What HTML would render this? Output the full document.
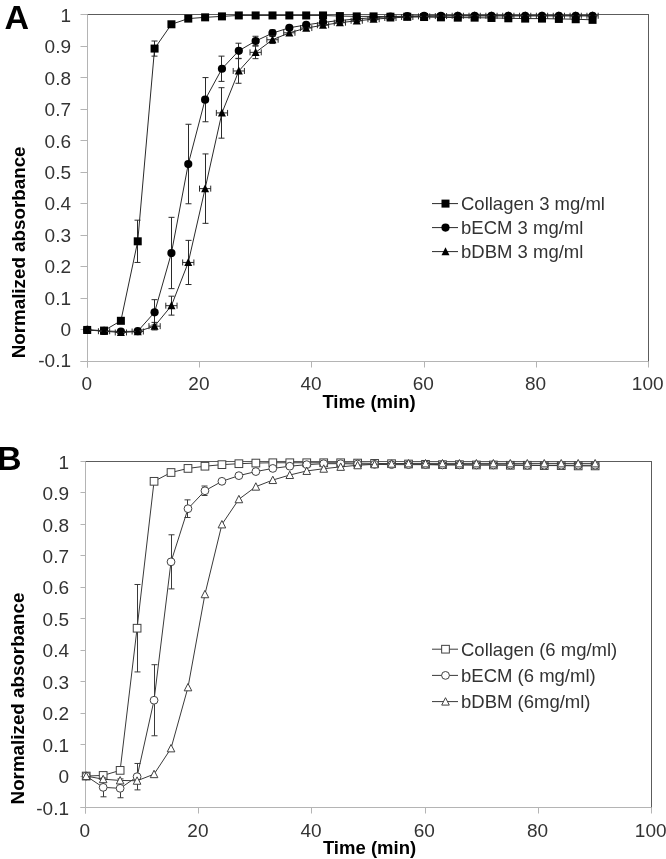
<!DOCTYPE html>
<html><head><meta charset="utf-8"><style>
html,body{margin:0;padding:0;background:#fff;}
body{width:666px;height:859px;overflow:hidden;}
svg{display:block;will-change:transform;}
.t{font-family:"Liberation Sans", sans-serif;font-size:18.5px;fill:#333;}
.k{font-size:19px;}
.b{font-family:"Liberation Sans", sans-serif;font-size:18.5px;font-weight:bold;fill:#000;}
.A{font-family:"Liberation Sans", sans-serif;font-size:34px;font-weight:bold;fill:#000;}
</style></head><body>
<svg width="666" height="859" viewBox="0 0 666 859">
<text x="4.5" y="29" class="A">A</text>
<text x="-2.9" y="470" class="A">B</text>
<rect x="87.5" y="14.5" width="561" height="347" fill="none" stroke="#5c5c5c" stroke-width="1"/>
<line x1="87.5" y1="14.5" x2="87.5" y2="367.5" stroke="#b4b4b4"/>
<line x1="80.5" y1="361.5" x2="648.5" y2="361.5" stroke="#b4b4b4"/>
<line x1="80.5" y1="14.5" x2="87.5" y2="14.5" stroke="#b4b4b4"/>
<text x="71" y="22.05" text-anchor="end" class="t k">1</text>
<line x1="80.5" y1="46.5" x2="87.5" y2="46.5" stroke="#b4b4b4"/>
<text x="71" y="53.45" text-anchor="end" class="t k">0.9</text>
<line x1="80.5" y1="77.5" x2="87.5" y2="77.5" stroke="#b4b4b4"/>
<text x="71" y="84.84" text-anchor="end" class="t k">0.8</text>
<line x1="80.5" y1="109.5" x2="87.5" y2="109.5" stroke="#b4b4b4"/>
<text x="71" y="116.24" text-anchor="end" class="t k">0.7</text>
<line x1="80.5" y1="140.5" x2="87.5" y2="140.5" stroke="#b4b4b4"/>
<text x="71" y="147.63" text-anchor="end" class="t k">0.6</text>
<line x1="80.5" y1="172.5" x2="87.5" y2="172.5" stroke="#b4b4b4"/>
<text x="71" y="179.03" text-anchor="end" class="t k">0.5</text>
<line x1="80.5" y1="203.5" x2="87.5" y2="203.5" stroke="#b4b4b4"/>
<text x="71" y="210.42" text-anchor="end" class="t k">0.4</text>
<line x1="80.5" y1="235.5" x2="87.5" y2="235.5" stroke="#b4b4b4"/>
<text x="71" y="241.82" text-anchor="end" class="t k">0.3</text>
<line x1="80.5" y1="266.5" x2="87.5" y2="266.5" stroke="#b4b4b4"/>
<text x="71" y="273.21" text-anchor="end" class="t k">0.2</text>
<line x1="80.5" y1="298.5" x2="87.5" y2="298.5" stroke="#b4b4b4"/>
<text x="71" y="304.61" text-anchor="end" class="t k">0.1</text>
<line x1="80.5" y1="329.5" x2="87.5" y2="329.5" stroke="#b4b4b4"/>
<text x="71" y="336" text-anchor="end" class="t k">0</text>
<line x1="80.5" y1="361.5" x2="87.5" y2="361.5" stroke="#b4b4b4"/>
<text x="71" y="367.4" text-anchor="end" class="t k">-0.1</text>
<line x1="87.5" y1="361.5" x2="87.5" y2="367.5" stroke="#b4b4b4"/>
<text x="86.7" y="390.3" text-anchor="middle" class="t k">0</text>
<line x1="199.5" y1="361.5" x2="199.5" y2="367.5" stroke="#b4b4b4"/>
<text x="198.9" y="390.3" text-anchor="middle" class="t k">20</text>
<line x1="311.5" y1="361.5" x2="311.5" y2="367.5" stroke="#b4b4b4"/>
<text x="311.1" y="390.3" text-anchor="middle" class="t k">40</text>
<line x1="424.5" y1="361.5" x2="424.5" y2="367.5" stroke="#b4b4b4"/>
<text x="423.3" y="390.3" text-anchor="middle" class="t k">60</text>
<line x1="536.5" y1="361.5" x2="536.5" y2="367.5" stroke="#b4b4b4"/>
<text x="535.5" y="390.3" text-anchor="middle" class="t k">80</text>
<line x1="648.5" y1="361.5" x2="648.5" y2="367.5" stroke="#b4b4b4"/>
<text x="647.7" y="390.3" text-anchor="middle" class="t k">100</text>
<text x="369" y="407.8" text-anchor="middle" class="b">Time (min)</text>
<text transform="translate(24.7,252.4) rotate(-90)" text-anchor="middle" class="b" style="font-size:18.8px">Normalized absorbance</text>
<rect x="85.5" y="461.5" width="566" height="346" fill="none" stroke="#5c5c5c" stroke-width="1"/>
<line x1="85.5" y1="461.5" x2="85.5" y2="813.5" stroke="#b4b4b4"/>
<line x1="80.5" y1="807.5" x2="651.5" y2="807.5" stroke="#b4b4b4"/>
<line x1="80.5" y1="461.5" x2="85.5" y2="461.5" stroke="#b4b4b4"/>
<text x="69" y="468.6" text-anchor="end" class="t k">1</text>
<line x1="80.5" y1="492.5" x2="85.5" y2="492.5" stroke="#b4b4b4"/>
<text x="69" y="500.05" text-anchor="end" class="t k">0.9</text>
<line x1="80.5" y1="524.5" x2="85.5" y2="524.5" stroke="#b4b4b4"/>
<text x="69" y="531.51" text-anchor="end" class="t k">0.8</text>
<line x1="80.5" y1="555.5" x2="85.5" y2="555.5" stroke="#b4b4b4"/>
<text x="69" y="562.96" text-anchor="end" class="t k">0.7</text>
<line x1="80.5" y1="587.5" x2="85.5" y2="587.5" stroke="#b4b4b4"/>
<text x="69" y="594.42" text-anchor="end" class="t k">0.6</text>
<line x1="80.5" y1="618.5" x2="85.5" y2="618.5" stroke="#b4b4b4"/>
<text x="69" y="625.87" text-anchor="end" class="t k">0.5</text>
<line x1="80.5" y1="650.5" x2="85.5" y2="650.5" stroke="#b4b4b4"/>
<text x="69" y="657.33" text-anchor="end" class="t k">0.4</text>
<line x1="80.5" y1="681.5" x2="85.5" y2="681.5" stroke="#b4b4b4"/>
<text x="69" y="688.78" text-anchor="end" class="t k">0.3</text>
<line x1="80.5" y1="713.5" x2="85.5" y2="713.5" stroke="#b4b4b4"/>
<text x="69" y="720.24" text-anchor="end" class="t k">0.2</text>
<line x1="80.5" y1="744.5" x2="85.5" y2="744.5" stroke="#b4b4b4"/>
<text x="69" y="751.69" text-anchor="end" class="t k">0.1</text>
<line x1="80.5" y1="776.5" x2="85.5" y2="776.5" stroke="#b4b4b4"/>
<text x="69" y="783.15" text-anchor="end" class="t k">0</text>
<line x1="80.5" y1="807.5" x2="85.5" y2="807.5" stroke="#b4b4b4"/>
<text x="69" y="814.6" text-anchor="end" class="t k">-0.1</text>
<line x1="85.5" y1="807.5" x2="85.5" y2="813.5" stroke="#b4b4b4"/>
<text x="84.7" y="836.6" text-anchor="middle" class="t k">0</text>
<line x1="198.5" y1="807.5" x2="198.5" y2="813.5" stroke="#b4b4b4"/>
<text x="197.9" y="836.6" text-anchor="middle" class="t k">20</text>
<line x1="311.5" y1="807.5" x2="311.5" y2="813.5" stroke="#b4b4b4"/>
<text x="311.1" y="836.6" text-anchor="middle" class="t k">40</text>
<line x1="425.5" y1="807.5" x2="425.5" y2="813.5" stroke="#b4b4b4"/>
<text x="424.3" y="836.6" text-anchor="middle" class="t k">60</text>
<line x1="538.5" y1="807.5" x2="538.5" y2="813.5" stroke="#b4b4b4"/>
<text x="537.5" y="836.6" text-anchor="middle" class="t k">80</text>
<line x1="651.5" y1="807.5" x2="651.5" y2="813.5" stroke="#b4b4b4"/>
<text x="650.7" y="836.6" text-anchor="middle" class="t k">100</text>
<text x="369.5" y="853.8" text-anchor="middle" class="b">Time (min)</text>
<text transform="translate(24.3,698.5) rotate(-90)" text-anchor="middle" class="b" style="font-size:18.8px">Normalized absorbance</text>
<polyline points="87.2,329.95 104.05,330.59 120.89,320.81 137.74,241.31 154.58,48.57 171.43,24.28 188.27,18.6 205.12,17.34 221.96,16.39 238.81,15.45 255.65,15.45 272.5,15.45 289.34,15.45 306.19,15.45 323.03,15.45 339.88,16.08 356.72,16.39 373.56,16.39 390.41,16.71 407.25,16.71 424.1,17.02 440.94,17.34 457.79,17.65 474.63,17.65 491.48,17.97 508.32,18.29 525.17,18.6 542.01,18.6 558.86,18.92 575.71,19.23 592.55,19.86" fill="none" stroke="#2a2a2a" stroke-width="1"/>
<path d="M137.5 220.18V262.45M134.5 220.18H140.5M134.5 262.45H140.5" stroke="#2a2a2a" fill="none"/>
<path d="M154.5 41V56.14M151.5 41H157.5M151.5 56.14H157.5" stroke="#2a2a2a" fill="none"/>
<rect x="83.2" y="325.95" width="8" height="8" fill="#000"/>
<rect x="100.05" y="326.59" width="8" height="8" fill="#000"/>
<rect x="116.89" y="316.81" width="8" height="8" fill="#000"/>
<rect x="133.74" y="237.31" width="8" height="8" fill="#000"/>
<rect x="150.58" y="44.57" width="8" height="8" fill="#000"/>
<rect x="167.43" y="20.28" width="8" height="8" fill="#000"/>
<rect x="184.27" y="14.6" width="8" height="8" fill="#000"/>
<rect x="201.12" y="13.34" width="8" height="8" fill="#000"/>
<rect x="217.96" y="12.39" width="8" height="8" fill="#000"/>
<rect x="234.81" y="11.45" width="8" height="8" fill="#000"/>
<rect x="251.65" y="11.45" width="8" height="8" fill="#000"/>
<rect x="268.5" y="11.45" width="8" height="8" fill="#000"/>
<rect x="285.34" y="11.45" width="8" height="8" fill="#000"/>
<rect x="302.19" y="11.45" width="8" height="8" fill="#000"/>
<rect x="319.03" y="11.45" width="8" height="8" fill="#000"/>
<rect x="335.88" y="12.08" width="8" height="8" fill="#000"/>
<rect x="352.72" y="12.39" width="8" height="8" fill="#000"/>
<rect x="369.56" y="12.39" width="8" height="8" fill="#000"/>
<rect x="386.41" y="12.71" width="8" height="8" fill="#000"/>
<rect x="403.25" y="12.71" width="8" height="8" fill="#000"/>
<rect x="420.1" y="13.02" width="8" height="8" fill="#000"/>
<rect x="436.94" y="13.34" width="8" height="8" fill="#000"/>
<rect x="453.79" y="13.65" width="8" height="8" fill="#000"/>
<rect x="470.63" y="13.65" width="8" height="8" fill="#000"/>
<rect x="487.48" y="13.97" width="8" height="8" fill="#000"/>
<rect x="504.32" y="14.29" width="8" height="8" fill="#000"/>
<rect x="521.17" y="14.6" width="8" height="8" fill="#000"/>
<rect x="538.01" y="14.6" width="8" height="8" fill="#000"/>
<rect x="554.86" y="14.92" width="8" height="8" fill="#000"/>
<rect x="571.71" y="15.23" width="8" height="8" fill="#000"/>
<rect x="588.55" y="15.86" width="8" height="8" fill="#000"/>
<polyline points="87.2,329.95 104.05,330.9 120.89,331.53 137.74,331.22 154.58,312.29 171.43,252.98 188.27,164.03 205.12,99.67 221.96,68.76 238.81,50.78 255.65,41 272.5,33.11 289.34,27.75 306.19,24.91 323.03,22.39 339.88,20.49 356.72,18.92 373.56,17.65 390.41,16.71 407.25,16.08 424.1,15.76 440.94,15.76 457.79,15.76 474.63,15.76 491.48,15.76 508.32,15.76 525.17,15.76 542.01,15.76 558.86,15.76 575.71,15.76 592.55,15.76" fill="none" stroke="#2a2a2a" stroke-width="1"/>
<path d="M154.5 299.67V324.91M151.5 299.67H157.5M151.5 324.91H157.5" stroke="#2a2a2a" fill="none"/>
<path d="M171.5 217.34V288.63M168.5 217.34H174.5M168.5 288.63H174.5" stroke="#2a2a2a" fill="none"/>
<path d="M188.5 124.28V203.77M185.5 124.28H191.5M185.5 203.77H191.5" stroke="#2a2a2a" fill="none"/>
<path d="M205.5 77.59V121.75M202.5 77.59H208.5M202.5 121.75H208.5" stroke="#2a2a2a" fill="none"/>
<path d="M221.5 56.14V81.38M218.5 56.14H224.5M218.5 81.38H224.5" stroke="#2a2a2a" fill="none"/>
<path d="M238.5 43.21V58.35M235.5 43.21H241.5M235.5 58.35H241.5" stroke="#2a2a2a" fill="none"/>
<path d="M255.5 36.27V45.73M252.5 36.27H258.5M252.5 45.73H258.5" stroke="#2a2a2a" fill="none"/>
<path d="M272.5 29.96V36.27M269.5 29.96H275.5M269.5 36.27H275.5" stroke="#2a2a2a" fill="none"/>
<circle cx="87.2" cy="329.95" r="4.1" fill="#000"/>
<circle cx="104.05" cy="330.9" r="4.1" fill="#000"/>
<circle cx="120.89" cy="331.53" r="4.1" fill="#000"/>
<circle cx="137.74" cy="331.22" r="4.1" fill="#000"/>
<circle cx="154.58" cy="312.29" r="4.1" fill="#000"/>
<circle cx="171.43" cy="252.98" r="4.1" fill="#000"/>
<circle cx="188.27" cy="164.03" r="4.1" fill="#000"/>
<circle cx="205.12" cy="99.67" r="4.1" fill="#000"/>
<circle cx="221.96" cy="68.76" r="4.1" fill="#000"/>
<circle cx="238.81" cy="50.78" r="4.1" fill="#000"/>
<circle cx="255.65" cy="41" r="4.1" fill="#000"/>
<circle cx="272.5" cy="33.11" r="4.1" fill="#000"/>
<circle cx="289.34" cy="27.75" r="4.1" fill="#000"/>
<circle cx="306.19" cy="24.91" r="4.1" fill="#000"/>
<circle cx="323.03" cy="22.39" r="4.1" fill="#000"/>
<circle cx="339.88" cy="20.49" r="4.1" fill="#000"/>
<circle cx="356.72" cy="18.92" r="4.1" fill="#000"/>
<circle cx="373.56" cy="17.65" r="4.1" fill="#000"/>
<circle cx="390.41" cy="16.71" r="4.1" fill="#000"/>
<circle cx="407.25" cy="16.08" r="4.1" fill="#000"/>
<circle cx="424.1" cy="15.76" r="4.1" fill="#000"/>
<circle cx="440.94" cy="15.76" r="4.1" fill="#000"/>
<circle cx="457.79" cy="15.76" r="4.1" fill="#000"/>
<circle cx="474.63" cy="15.76" r="4.1" fill="#000"/>
<circle cx="491.48" cy="15.76" r="4.1" fill="#000"/>
<circle cx="508.32" cy="15.76" r="4.1" fill="#000"/>
<circle cx="525.17" cy="15.76" r="4.1" fill="#000"/>
<circle cx="542.01" cy="15.76" r="4.1" fill="#000"/>
<circle cx="558.86" cy="15.76" r="4.1" fill="#000"/>
<circle cx="575.71" cy="15.76" r="4.1" fill="#000"/>
<circle cx="592.55" cy="15.76" r="4.1" fill="#000"/>
<polyline points="87.2,329.95 104.05,331.22 120.89,332.48 137.74,331.53 154.58,326.17 171.43,305.66 188.27,262.45 205.12,188.63 221.96,112.92 238.81,70.97 255.65,52.35 272.5,39.74 289.34,32.8 306.19,28.06 323.03,25.23 339.88,22.7 356.72,20.81 373.56,19.23 390.41,17.97 407.25,17.02 424.1,16.39 440.94,16.08 457.79,15.76 474.63,15.76 491.48,15.76 508.32,15.76 525.17,15.76 542.01,15.76 558.86,15.76 575.71,15.76 592.55,15.76" fill="none" stroke="#2a2a2a" stroke-width="1"/>
<path d="M154.5 322.38V329.95M151.5 322.38H157.5M151.5 329.95H157.5" stroke="#2a2a2a" fill="none"/>
<path d="M171.5 296.2V315.13M168.5 296.2H174.5M168.5 315.13H174.5" stroke="#2a2a2a" fill="none"/>
<path d="M188.5 240.37V284.53M185.5 240.37H191.5M185.5 284.53H191.5" stroke="#2a2a2a" fill="none"/>
<path d="M205.5 153.93V223.33M202.5 153.93H208.5M202.5 223.33H208.5" stroke="#2a2a2a" fill="none"/>
<path d="M221.5 87.69V138.16M218.5 87.69H224.5M218.5 138.16H224.5" stroke="#2a2a2a" fill="none"/>
<path d="M238.5 58.66V83.27M235.5 58.66H241.5M235.5 83.27H241.5" stroke="#2a2a2a" fill="none"/>
<path d="M255.5 46.05V58.66M252.5 46.05H258.5M252.5 58.66H258.5" stroke="#2a2a2a" fill="none"/>
<path d="M272.5 35.95V43.52M269.5 35.95H275.5M269.5 43.52H275.5" stroke="#2a2a2a" fill="none"/>
<path d="M98.43 331.22H109.66M98.43 328.22V334.22M109.66 328.22V334.22" stroke="#2a2a2a" fill="none"/>
<path d="M115.28 332.48H126.5M115.28 329.48V335.48M126.5 329.48V335.48" stroke="#2a2a2a" fill="none"/>
<path d="M132.12 331.53H143.35M132.12 328.53V334.53M143.35 328.53V334.53" stroke="#2a2a2a" fill="none"/>
<path d="M148.97 326.17H160.19M148.97 323.17V329.17M160.19 323.17V329.17" stroke="#2a2a2a" fill="none"/>
<path d="M165.81 305.66H177.04M165.81 302.66V308.66M177.04 302.66V308.66" stroke="#2a2a2a" fill="none"/>
<path d="M182.66 262.45H193.88M182.66 259.45V265.45M193.88 259.45V265.45" stroke="#2a2a2a" fill="none"/>
<path d="M199.5 188.63H210.73M199.5 185.63V191.63M210.73 185.63V191.63" stroke="#2a2a2a" fill="none"/>
<path d="M216.35 112.92H227.57M216.35 109.92V115.92M227.57 109.92V115.92" stroke="#2a2a2a" fill="none"/>
<path d="M233.19 70.97H244.42M233.19 67.97V73.97M244.42 67.97V73.97" stroke="#2a2a2a" fill="none"/>
<path d="M250.04 52.35H261.26M250.04 49.35V55.35M261.26 49.35V55.35" stroke="#2a2a2a" fill="none"/>
<path d="M266.88 39.74H278.11M266.88 36.74V42.74M278.11 36.74V42.74" stroke="#2a2a2a" fill="none"/>
<path d="M283.73 32.8H294.95M283.73 29.8V35.8M294.95 29.8V35.8" stroke="#2a2a2a" fill="none"/>
<path d="M300.57 28.06H311.8M300.57 25.06V31.06M311.8 25.06V31.06" stroke="#2a2a2a" fill="none"/>
<path d="M317.42 25.23H328.64M317.42 22.23V28.23M328.64 22.23V28.23" stroke="#2a2a2a" fill="none"/>
<path d="M334.26 22.7H345.49M334.26 19.7V25.7M345.49 19.7V25.7" stroke="#2a2a2a" fill="none"/>
<path d="M351.1 20.81H362.33M351.1 17.81V23.81M362.33 17.81V23.81" stroke="#2a2a2a" fill="none"/>
<path d="M367.95 19.23H379.18M367.95 16.23V22.23M379.18 16.23V22.23" stroke="#2a2a2a" fill="none"/>
<path d="M384.8 17.97H396.02M384.8 14.97V20.97M396.02 14.97V20.97" stroke="#2a2a2a" fill="none"/>
<path d="M401.64 17.02H412.87M401.64 14.02V20.02M412.87 14.02V20.02" stroke="#2a2a2a" fill="none"/>
<path d="M418.49 16.39H429.71M418.49 13.39V19.39M429.71 13.39V19.39" stroke="#2a2a2a" fill="none"/>
<path d="M435.33 16.08H446.56M435.33 13.08V19.08M446.56 13.08V19.08" stroke="#2a2a2a" fill="none"/>
<path d="M452.18 15.76H463.4M452.18 12.76V18.76M463.4 12.76V18.76" stroke="#2a2a2a" fill="none"/>
<path d="M469.02 15.76H480.25M469.02 12.76V18.76M480.25 12.76V18.76" stroke="#2a2a2a" fill="none"/>
<path d="M485.87 15.76H497.09M485.87 12.76V18.76M497.09 12.76V18.76" stroke="#2a2a2a" fill="none"/>
<path d="M502.71 15.76H513.94M502.71 12.76V18.76M513.94 12.76V18.76" stroke="#2a2a2a" fill="none"/>
<path d="M519.56 15.76H530.78M519.56 12.76V18.76M530.78 12.76V18.76" stroke="#2a2a2a" fill="none"/>
<path d="M536.4 15.76H547.63M536.4 12.76V18.76M547.63 12.76V18.76" stroke="#2a2a2a" fill="none"/>
<path d="M553.25 15.76H564.48M553.25 12.76V18.76M564.48 12.76V18.76" stroke="#2a2a2a" fill="none"/>
<path d="M570.09 15.76H581.32M570.09 12.76V18.76M581.32 12.76V18.76" stroke="#2a2a2a" fill="none"/>
<path d="M586.94 15.76H598.16M586.94 12.76V18.76M598.16 12.76V18.76" stroke="#2a2a2a" fill="none"/>
<path d="M87.2 325.55L91.2 333.55L83.2 333.55Z" fill="#000"/>
<path d="M104.05 326.82L108.05 334.82L100.05 334.82Z" fill="#000"/>
<path d="M120.89 328.08L124.89 336.08L116.89 336.08Z" fill="#000"/>
<path d="M137.74 327.13L141.74 335.13L133.74 335.13Z" fill="#000"/>
<path d="M154.58 321.77L158.58 329.77L150.58 329.77Z" fill="#000"/>
<path d="M171.43 301.26L175.43 309.26L167.43 309.26Z" fill="#000"/>
<path d="M188.27 258.05L192.27 266.05L184.27 266.05Z" fill="#000"/>
<path d="M205.12 184.23L209.12 192.23L201.12 192.23Z" fill="#000"/>
<path d="M221.96 108.52L225.96 116.52L217.96 116.52Z" fill="#000"/>
<path d="M238.81 66.57L242.81 74.57L234.81 74.57Z" fill="#000"/>
<path d="M255.65 47.95L259.65 55.95L251.65 55.95Z" fill="#000"/>
<path d="M272.5 35.34L276.5 43.34L268.5 43.34Z" fill="#000"/>
<path d="M289.34 28.4L293.34 36.4L285.34 36.4Z" fill="#000"/>
<path d="M306.19 23.66L310.19 31.66L302.19 31.66Z" fill="#000"/>
<path d="M323.03 20.83L327.03 28.83L319.03 28.83Z" fill="#000"/>
<path d="M339.88 18.3L343.88 26.3L335.88 26.3Z" fill="#000"/>
<path d="M356.72 16.41L360.72 24.41L352.72 24.41Z" fill="#000"/>
<path d="M373.56 14.83L377.56 22.83L369.56 22.83Z" fill="#000"/>
<path d="M390.41 13.57L394.41 21.57L386.41 21.57Z" fill="#000"/>
<path d="M407.25 12.62L411.25 20.62L403.25 20.62Z" fill="#000"/>
<path d="M424.1 11.99L428.1 19.99L420.1 19.99Z" fill="#000"/>
<path d="M440.94 11.68L444.94 19.68L436.94 19.68Z" fill="#000"/>
<path d="M457.79 11.36L461.79 19.36L453.79 19.36Z" fill="#000"/>
<path d="M474.63 11.36L478.63 19.36L470.63 19.36Z" fill="#000"/>
<path d="M491.48 11.36L495.48 19.36L487.48 19.36Z" fill="#000"/>
<path d="M508.32 11.36L512.33 19.36L504.32 19.36Z" fill="#000"/>
<path d="M525.17 11.36L529.17 19.36L521.17 19.36Z" fill="#000"/>
<path d="M542.01 11.36L546.01 19.36L538.01 19.36Z" fill="#000"/>
<path d="M558.86 11.36L562.86 19.36L554.86 19.36Z" fill="#000"/>
<path d="M575.71 11.36L579.71 19.36L571.71 19.36Z" fill="#000"/>
<path d="M592.55 11.36L596.55 19.36L588.55 19.36Z" fill="#000"/>
<line x1="432" y1="203.6" x2="458" y2="203.6" stroke="#2a2a2a"/>
<rect x="441.5" y="199.6" width="8" height="8" fill="#000"/>
<text x="461" y="210.2" class="t">Collagen 3 mg/ml</text>
<line x1="432" y1="227.6" x2="458" y2="227.6" stroke="#2a2a2a"/>
<circle cx="445.5" cy="227.6" r="4.1" fill="#000"/>
<text x="461" y="234.2" class="t">bECM 3 mg/ml</text>
<line x1="432" y1="251.6" x2="458" y2="251.6" stroke="#2a2a2a"/>
<path d="M445.5 247.2L449.5 255.2L441.5 255.2Z" fill="#000"/>
<text x="461" y="258.2" class="t">bDBM 3 mg/ml</text>
<polyline points="86.2,776.05 103.17,775.42 120.13,770.38 137.09,628.21 154.06,481.32 171.03,472.51 187.99,468.42 204.95,466.22 221.92,464.65 238.88,463.7 255.85,463.07 272.81,462.76 289.78,462.76 306.75,462.76 323.71,462.76 340.68,462.76 357.64,463.07 374.6,463.39 391.57,463.7 408.53,464.02 425.5,464.33 442.46,464.65 459.43,464.65 476.39,464.96 493.36,464.96 510.32,465.27 527.29,465.27 544.25,465.59 561.22,465.59 578.19,465.9 595.15,465.9" fill="none" stroke="#3a3a3a" stroke-width="1"/>
<path d="M137.5 584.49V671.93M134.5 584.49H140.5M134.5 671.93H140.5" stroke="#3a3a3a" fill="none"/>
<rect x="82.35" y="772.2" width="7.7" height="7.7" fill="#fff" stroke="#404040" stroke-width="1"/>
<rect x="99.32" y="771.57" width="7.7" height="7.7" fill="#fff" stroke="#404040" stroke-width="1"/>
<rect x="116.28" y="766.53" width="7.7" height="7.7" fill="#fff" stroke="#404040" stroke-width="1"/>
<rect x="133.25" y="624.36" width="7.7" height="7.7" fill="#fff" stroke="#404040" stroke-width="1"/>
<rect x="150.21" y="477.47" width="7.7" height="7.7" fill="#fff" stroke="#404040" stroke-width="1"/>
<rect x="167.18" y="468.66" width="7.7" height="7.7" fill="#fff" stroke="#404040" stroke-width="1"/>
<rect x="184.14" y="464.57" width="7.7" height="7.7" fill="#fff" stroke="#404040" stroke-width="1"/>
<rect x="201.1" y="462.37" width="7.7" height="7.7" fill="#fff" stroke="#404040" stroke-width="1"/>
<rect x="218.07" y="460.8" width="7.7" height="7.7" fill="#fff" stroke="#404040" stroke-width="1"/>
<rect x="235.03" y="459.85" width="7.7" height="7.7" fill="#fff" stroke="#404040" stroke-width="1"/>
<rect x="252" y="459.22" width="7.7" height="7.7" fill="#fff" stroke="#404040" stroke-width="1"/>
<rect x="268.96" y="458.91" width="7.7" height="7.7" fill="#fff" stroke="#404040" stroke-width="1"/>
<rect x="285.93" y="458.91" width="7.7" height="7.7" fill="#fff" stroke="#404040" stroke-width="1"/>
<rect x="302.89" y="458.91" width="7.7" height="7.7" fill="#fff" stroke="#404040" stroke-width="1"/>
<rect x="319.86" y="458.91" width="7.7" height="7.7" fill="#fff" stroke="#404040" stroke-width="1"/>
<rect x="336.82" y="458.91" width="7.7" height="7.7" fill="#fff" stroke="#404040" stroke-width="1"/>
<rect x="353.79" y="459.22" width="7.7" height="7.7" fill="#fff" stroke="#404040" stroke-width="1"/>
<rect x="370.75" y="459.54" width="7.7" height="7.7" fill="#fff" stroke="#404040" stroke-width="1"/>
<rect x="387.72" y="459.85" width="7.7" height="7.7" fill="#fff" stroke="#404040" stroke-width="1"/>
<rect x="404.68" y="460.17" width="7.7" height="7.7" fill="#fff" stroke="#404040" stroke-width="1"/>
<rect x="421.65" y="460.48" width="7.7" height="7.7" fill="#fff" stroke="#404040" stroke-width="1"/>
<rect x="438.61" y="460.8" width="7.7" height="7.7" fill="#fff" stroke="#404040" stroke-width="1"/>
<rect x="455.58" y="460.8" width="7.7" height="7.7" fill="#fff" stroke="#404040" stroke-width="1"/>
<rect x="472.54" y="461.11" width="7.7" height="7.7" fill="#fff" stroke="#404040" stroke-width="1"/>
<rect x="489.51" y="461.11" width="7.7" height="7.7" fill="#fff" stroke="#404040" stroke-width="1"/>
<rect x="506.47" y="461.42" width="7.7" height="7.7" fill="#fff" stroke="#404040" stroke-width="1"/>
<rect x="523.44" y="461.42" width="7.7" height="7.7" fill="#fff" stroke="#404040" stroke-width="1"/>
<rect x="540.4" y="461.74" width="7.7" height="7.7" fill="#fff" stroke="#404040" stroke-width="1"/>
<rect x="557.37" y="461.74" width="7.7" height="7.7" fill="#fff" stroke="#404040" stroke-width="1"/>
<rect x="574.34" y="462.05" width="7.7" height="7.7" fill="#fff" stroke="#404040" stroke-width="1"/>
<rect x="591.3" y="462.05" width="7.7" height="7.7" fill="#fff" stroke="#404040" stroke-width="1"/>
<polyline points="86.2,776.05 103.17,787.37 120.13,788.31 137.09,776.67 154.06,700.24 171.03,561.84 187.99,508.68 204.95,490.75 221.92,481.32 238.88,475.65 255.85,471.57 272.81,468.42 289.78,466.22 306.75,464.65 323.71,463.7 340.68,463.7 357.64,464.02 374.6,464.33 391.57,464.65 408.53,464.65 425.5,464.65 442.46,464.96 459.43,464.96 476.39,464.96 493.36,464.96 510.32,464.96 527.29,465.27 544.25,465.27 561.22,465.27 578.19,465.27 595.15,465.27" fill="none" stroke="#3a3a3a" stroke-width="1"/>
<path d="M103.5 777.93V796.81M100.5 777.93H106.5M100.5 796.81H106.5" stroke="#3a3a3a" fill="none"/>
<path d="M120.5 778.88V797.75M117.5 778.88H123.5M117.5 797.75H123.5" stroke="#3a3a3a" fill="none"/>
<path d="M137.5 763.46V789.89M134.5 763.46H140.5M134.5 789.89H140.5" stroke="#3a3a3a" fill="none"/>
<path d="M154.5 664.7V735.78M151.5 664.7H157.5M151.5 735.78H157.5" stroke="#3a3a3a" fill="none"/>
<path d="M171.5 534.79V588.89M168.5 534.79H174.5M168.5 588.89H174.5" stroke="#3a3a3a" fill="none"/>
<path d="M187.5 499.87V517.49M184.5 499.87H190.5M184.5 517.49H190.5" stroke="#3a3a3a" fill="none"/>
<path d="M204.5 486.03V495.47M201.5 486.03H207.5M201.5 495.47H207.5" stroke="#3a3a3a" fill="none"/>
<circle cx="86.2" cy="776.05" r="3.9" fill="#fff" stroke="#404040" stroke-width="1"/>
<circle cx="103.17" cy="787.37" r="3.9" fill="#fff" stroke="#404040" stroke-width="1"/>
<circle cx="120.13" cy="788.31" r="3.9" fill="#fff" stroke="#404040" stroke-width="1"/>
<circle cx="137.09" cy="776.67" r="3.9" fill="#fff" stroke="#404040" stroke-width="1"/>
<circle cx="154.06" cy="700.24" r="3.9" fill="#fff" stroke="#404040" stroke-width="1"/>
<circle cx="171.03" cy="561.84" r="3.9" fill="#fff" stroke="#404040" stroke-width="1"/>
<circle cx="187.99" cy="508.68" r="3.9" fill="#fff" stroke="#404040" stroke-width="1"/>
<circle cx="204.95" cy="490.75" r="3.9" fill="#fff" stroke="#404040" stroke-width="1"/>
<circle cx="221.92" cy="481.32" r="3.9" fill="#fff" stroke="#404040" stroke-width="1"/>
<circle cx="238.88" cy="475.65" r="3.9" fill="#fff" stroke="#404040" stroke-width="1"/>
<circle cx="255.85" cy="471.57" r="3.9" fill="#fff" stroke="#404040" stroke-width="1"/>
<circle cx="272.81" cy="468.42" r="3.9" fill="#fff" stroke="#404040" stroke-width="1"/>
<circle cx="289.78" cy="466.22" r="3.9" fill="#fff" stroke="#404040" stroke-width="1"/>
<circle cx="306.75" cy="464.65" r="3.9" fill="#fff" stroke="#404040" stroke-width="1"/>
<circle cx="323.71" cy="463.7" r="3.9" fill="#fff" stroke="#404040" stroke-width="1"/>
<circle cx="340.68" cy="463.7" r="3.9" fill="#fff" stroke="#404040" stroke-width="1"/>
<circle cx="357.64" cy="464.02" r="3.9" fill="#fff" stroke="#404040" stroke-width="1"/>
<circle cx="374.6" cy="464.33" r="3.9" fill="#fff" stroke="#404040" stroke-width="1"/>
<circle cx="391.57" cy="464.65" r="3.9" fill="#fff" stroke="#404040" stroke-width="1"/>
<circle cx="408.53" cy="464.65" r="3.9" fill="#fff" stroke="#404040" stroke-width="1"/>
<circle cx="425.5" cy="464.65" r="3.9" fill="#fff" stroke="#404040" stroke-width="1"/>
<circle cx="442.46" cy="464.96" r="3.9" fill="#fff" stroke="#404040" stroke-width="1"/>
<circle cx="459.43" cy="464.96" r="3.9" fill="#fff" stroke="#404040" stroke-width="1"/>
<circle cx="476.39" cy="464.96" r="3.9" fill="#fff" stroke="#404040" stroke-width="1"/>
<circle cx="493.36" cy="464.96" r="3.9" fill="#fff" stroke="#404040" stroke-width="1"/>
<circle cx="510.32" cy="464.96" r="3.9" fill="#fff" stroke="#404040" stroke-width="1"/>
<circle cx="527.29" cy="465.27" r="3.9" fill="#fff" stroke="#404040" stroke-width="1"/>
<circle cx="544.25" cy="465.27" r="3.9" fill="#fff" stroke="#404040" stroke-width="1"/>
<circle cx="561.22" cy="465.27" r="3.9" fill="#fff" stroke="#404040" stroke-width="1"/>
<circle cx="578.19" cy="465.27" r="3.9" fill="#fff" stroke="#404040" stroke-width="1"/>
<circle cx="595.15" cy="465.27" r="3.9" fill="#fff" stroke="#404040" stroke-width="1"/>
<polyline points="86.2,776.05 103.17,779.19 120.13,780.45 137.09,780.76 154.06,774.16 171.03,748.37 187.99,687.34 204.95,594.24 221.92,524.41 238.88,499.25 255.85,486.66 272.81,480.06 289.78,475.03 306.75,470.94 323.71,468.73 340.68,466.85 357.64,465.27 374.6,464.33 391.57,463.7 408.53,463.39 425.5,463.39 442.46,463.39 459.43,463.39 476.39,463.39 493.36,463.39 510.32,463.39 527.29,463.39 544.25,463.39 561.22,463.39 578.19,463.39 595.15,463.39" fill="none" stroke="#3a3a3a" stroke-width="1"/>
<path d="M86.2 772.15L90 779.55L82.4 779.55Z" fill="#fff" stroke="#404040" stroke-width="1" stroke-linejoin="round"/>
<path d="M103.17 775.29L106.97 782.69L99.37 782.69Z" fill="#fff" stroke="#404040" stroke-width="1" stroke-linejoin="round"/>
<path d="M120.13 776.55L123.93 783.95L116.33 783.95Z" fill="#fff" stroke="#404040" stroke-width="1" stroke-linejoin="round"/>
<path d="M137.09 776.86L140.9 784.26L133.29 784.26Z" fill="#fff" stroke="#404040" stroke-width="1" stroke-linejoin="round"/>
<path d="M154.06 770.26L157.86 777.66L150.26 777.66Z" fill="#fff" stroke="#404040" stroke-width="1" stroke-linejoin="round"/>
<path d="M171.03 744.47L174.83 751.87L167.22 751.87Z" fill="#fff" stroke="#404040" stroke-width="1" stroke-linejoin="round"/>
<path d="M187.99 683.44L191.79 690.84L184.19 690.84Z" fill="#fff" stroke="#404040" stroke-width="1" stroke-linejoin="round"/>
<path d="M204.95 590.34L208.75 597.74L201.15 597.74Z" fill="#fff" stroke="#404040" stroke-width="1" stroke-linejoin="round"/>
<path d="M221.92 520.51L225.72 527.91L218.12 527.91Z" fill="#fff" stroke="#404040" stroke-width="1" stroke-linejoin="round"/>
<path d="M238.88 495.35L242.69 502.75L235.08 502.75Z" fill="#fff" stroke="#404040" stroke-width="1" stroke-linejoin="round"/>
<path d="M255.85 482.76L259.65 490.16L252.05 490.16Z" fill="#fff" stroke="#404040" stroke-width="1" stroke-linejoin="round"/>
<path d="M272.81 476.16L276.62 483.56L269.01 483.56Z" fill="#fff" stroke="#404040" stroke-width="1" stroke-linejoin="round"/>
<path d="M289.78 471.13L293.58 478.53L285.98 478.53Z" fill="#fff" stroke="#404040" stroke-width="1" stroke-linejoin="round"/>
<path d="M306.75 467.04L310.55 474.44L302.94 474.44Z" fill="#fff" stroke="#404040" stroke-width="1" stroke-linejoin="round"/>
<path d="M323.71 464.83L327.51 472.23L319.91 472.23Z" fill="#fff" stroke="#404040" stroke-width="1" stroke-linejoin="round"/>
<path d="M340.68 462.95L344.48 470.35L336.88 470.35Z" fill="#fff" stroke="#404040" stroke-width="1" stroke-linejoin="round"/>
<path d="M357.64 461.37L361.44 468.77L353.84 468.77Z" fill="#fff" stroke="#404040" stroke-width="1" stroke-linejoin="round"/>
<path d="M374.6 460.43L378.4 467.83L370.8 467.83Z" fill="#fff" stroke="#404040" stroke-width="1" stroke-linejoin="round"/>
<path d="M391.57 459.8L395.37 467.2L387.77 467.2Z" fill="#fff" stroke="#404040" stroke-width="1" stroke-linejoin="round"/>
<path d="M408.53 459.49L412.33 466.89L404.73 466.89Z" fill="#fff" stroke="#404040" stroke-width="1" stroke-linejoin="round"/>
<path d="M425.5 459.49L429.3 466.89L421.7 466.89Z" fill="#fff" stroke="#404040" stroke-width="1" stroke-linejoin="round"/>
<path d="M442.46 459.49L446.26 466.89L438.66 466.89Z" fill="#fff" stroke="#404040" stroke-width="1" stroke-linejoin="round"/>
<path d="M459.43 459.49L463.23 466.89L455.63 466.89Z" fill="#fff" stroke="#404040" stroke-width="1" stroke-linejoin="round"/>
<path d="M476.39 459.49L480.19 466.89L472.59 466.89Z" fill="#fff" stroke="#404040" stroke-width="1" stroke-linejoin="round"/>
<path d="M493.36 459.49L497.16 466.89L489.56 466.89Z" fill="#fff" stroke="#404040" stroke-width="1" stroke-linejoin="round"/>
<path d="M510.32 459.49L514.12 466.89L506.52 466.89Z" fill="#fff" stroke="#404040" stroke-width="1" stroke-linejoin="round"/>
<path d="M527.29 459.49L531.09 466.89L523.49 466.89Z" fill="#fff" stroke="#404040" stroke-width="1" stroke-linejoin="round"/>
<path d="M544.25 459.49L548.05 466.89L540.46 466.89Z" fill="#fff" stroke="#404040" stroke-width="1" stroke-linejoin="round"/>
<path d="M561.22 459.49L565.02 466.89L557.42 466.89Z" fill="#fff" stroke="#404040" stroke-width="1" stroke-linejoin="round"/>
<path d="M578.19 459.49L581.99 466.89L574.39 466.89Z" fill="#fff" stroke="#404040" stroke-width="1" stroke-linejoin="round"/>
<path d="M595.15 459.49L598.95 466.89L591.35 466.89Z" fill="#fff" stroke="#404040" stroke-width="1" stroke-linejoin="round"/>
<line x1="432" y1="649.2" x2="458" y2="649.2" stroke="#3a3a3a"/>
<rect x="441.65" y="645.35" width="7.7" height="7.7" fill="#fff" stroke="#404040" stroke-width="1"/>
<text x="461" y="655.8" class="t">Collagen (6 mg/ml)</text>
<line x1="432" y1="675.4" x2="458" y2="675.4" stroke="#3a3a3a"/>
<circle cx="445.5" cy="675.4" r="3.9" fill="#fff" stroke="#404040" stroke-width="1"/>
<text x="461" y="682" class="t">bECM (6 mg/ml)</text>
<line x1="432" y1="701.6" x2="458" y2="701.6" stroke="#3a3a3a"/>
<path d="M445.5 697.7L449.3 705.1L441.7 705.1Z" fill="#fff" stroke="#404040" stroke-width="1" stroke-linejoin="round"/>
<text x="461" y="708.2" class="t">bDBM (6mg/ml)</text>
</svg>
</body></html>
